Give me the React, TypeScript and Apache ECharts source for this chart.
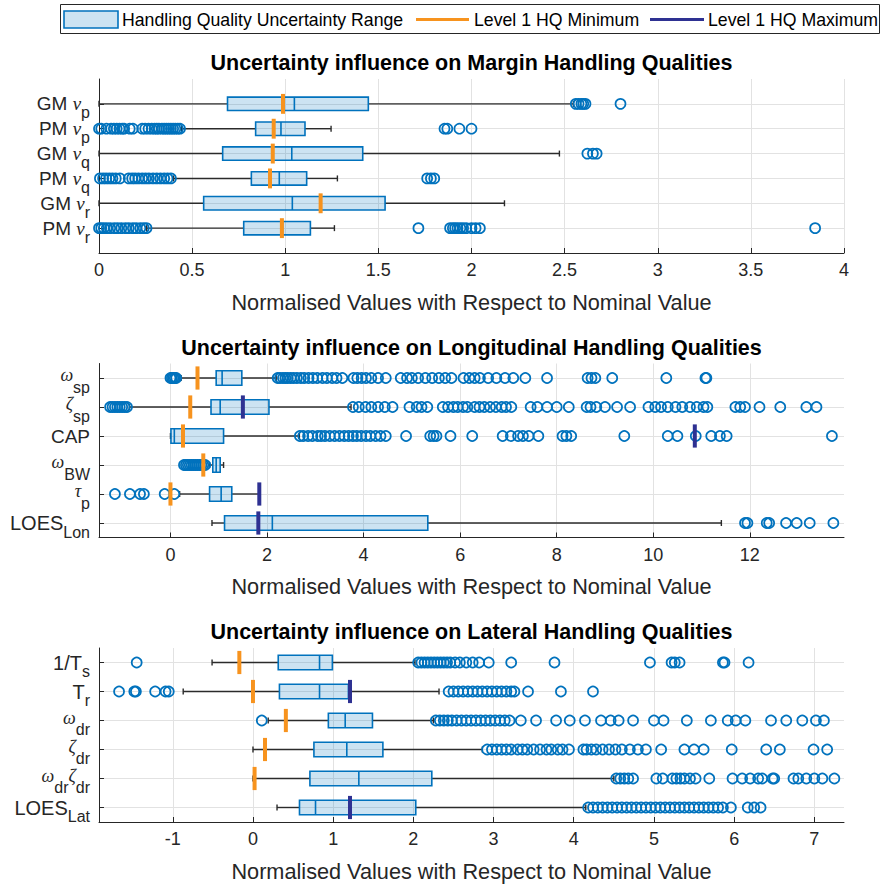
import React, { useEffect, useRef } from 'react';
import * as echarts from 'echarts';

const FONT = '"Liberation Sans", Arial, sans-serif';
const SERIF = '"Liberation Serif", "DejaVu Serif", serif';
const BLUE = '#0072BD';
const ORANGE = '#F7931E';
const NAVY = '#2E3192';
const AXIS = '#262626';
const GRID = '#e2e2e2';

const axisName = 'Normalised Values with Respect to Nominal Value';
const panelTitles = [
  'Uncertainty influence on Margin Handling Qualities',
  'Uncertainty influence on Longitudinal Handling Qualities',
  'Uncertainty influence on Lateral Handling Qualities',
];
const legendLabels = ['Handling Quality Uncertainty Range', 'Level 1 HQ Minimum', 'Level 1 HQ Maximum'];

// ---------- Panel 1 : Margin ----------
const marginLabels = [
  '{n|GM }{v|ν}{s|p}',
  '{n|PM }{v|ν}{s|p}',
  '{n|GM }{v|ν}{s|q}',
  '{n|PM }{v|ν}{s|q}',
  '{n|GM }{v|ν}{s|r}',
  '{n|PM }{v|ν}{s|r}',
];
// [whisker low, Q1, median, Q3, whisker high]
const marginStats = [
  [0.0, 0.69, 1.049, 1.446, 2.547],
  [0.444, 0.841, 0.977, 1.106, 1.246],
  [0.0, 0.664, 1.035, 1.416, 2.472],
  [0.4, 0.818, 0.968, 1.115, 1.28],
  [0.0, 0.562, 1.038, 1.536, 2.177],
  [0.256, 0.777, 0.985, 1.135, 1.264],
];
const marginL1Min = [0.988, 0.938, 0.933, 0.918, 1.19, 0.982];
const marginL1Max = [null, null, null, null, null, null];
const marginOutliers = [
  [2.56, 2.575, 2.59, 2.6, 2.612, 2.8],
  [0.0, 0.012, 0.04, 0.065, 0.08, 0.095, 0.11, 0.125, 0.135, 0.165, 0.182, 0.232, 0.248, 0.266, 0.283, 0.298, 0.31, 0.322, 0.338, 0.35, 0.362, 0.374, 0.386, 0.398, 0.41, 0.423, 0.435, 1.855, 1.87, 1.935, 2.0],
  [2.622, 2.652, 2.672],
  [0.005, 0.022, 0.038, 0.055, 0.072, 0.09, 0.112, 0.16, 0.178, 0.194, 0.212, 0.232, 0.25, 0.268, 0.29, 0.31, 0.33, 0.35, 0.368, 0.386, 1.762, 1.782, 1.8],
  [],
  [0.0, 0.012, 0.026, 0.042, 0.06, 0.082, 0.1, 0.12, 0.142, 0.16, 0.182, 0.2, 0.222, 0.24, 0.255, 1.715, 1.885, 1.9, 1.912, 1.925, 1.94, 1.955, 1.972, 2.0, 2.022, 2.045, 3.845],
];

// ---------- Panel 2 : Longitudinal ----------
const lonLabels = [
  '{g|ω}{s|sp}',
  '{g|ζ}{s|sp}',
  '{n|CAP}',
  '{g|ω}{s|BW}',
  '{g|τ}{s|p}',
  '{b|LOES}{s|Lon}',
];
const lonStats = [
  [0.22, 0.947, 1.07, 1.478, 2.19],
  [-0.85, 0.84, 1.03, 2.04, 3.74],
  [0.0, 0.01, 0.08, 1.1, 2.67],
  [0.81, 0.877, 0.947, 1.03, 1.1],
  [0.19, 0.81, 1.05, 1.27, 1.84],
  [0.86, 1.12, 2.11, 5.33, 11.41],
];
const lonL1Min = [0.56, 0.41, 0.26, 0.68, 0.0, null];
const lonL1Max = [null, 1.5, 10.86, null, 1.84, 1.82];
const lonOutliers = [
  [0.0, 0.03, 0.06, 0.09, 0.12, 2.22, 2.27, 2.33, 2.38, 2.43, 2.49, 2.55, 2.62, 2.7, 2.77, 2.86, 2.95, 3.04, 3.15, 3.24, 3.35, 3.44, 3.56, 3.79, 3.87, 3.96, 4.05, 4.16, 4.3, 4.46, 4.77, 4.9, 5.0, 5.13, 5.28, 5.42, 5.56, 5.69, 5.82, 6.07, 6.19, 6.3, 6.41, 6.58, 6.75, 6.93, 7.1, 7.35, 7.8, 8.64, 8.72, 8.8, 9.15, 10.27, 11.08, 11.1],
  [-1.25, -1.2, -1.15, -1.1, -1.05, -1.0, -0.95, -0.9, 3.78, 3.9, 4.04, 4.16, 4.3, 4.44, 4.6, 4.95, 5.1, 5.2, 5.32, 5.64, 5.75, 5.86, 5.95, 6.06, 6.15, 6.3, 6.4, 6.5, 6.62, 6.74, 6.86, 6.95, 7.06, 7.46, 7.6, 7.8, 8.0, 8.25, 8.62, 8.7, 8.82, 9.0, 9.25, 9.52, 9.9, 10.04, 10.16, 10.3, 10.46, 10.6, 10.76, 10.9, 11.04, 11.12, 11.7, 11.8, 11.9, 12.2, 12.63, 13.17, 13.38],
  [2.68, 2.75, 2.85, 2.94, 3.05, 3.12, 3.2, 3.3, 3.4, 3.5, 3.6, 3.69, 3.78, 3.86, 3.95, 4.05, 4.14, 4.25, 4.35, 4.46, 4.88, 5.38, 5.45, 5.51, 5.8, 6.25, 6.88, 7.05, 7.2, 7.3, 7.42, 7.62, 8.12, 8.2, 8.3, 9.4, 10.3, 10.5, 10.88, 11.2, 11.38, 11.52, 13.7],
  [0.28, 0.32, 0.36, 0.4, 0.44, 0.48, 0.52, 0.56, 0.6, 0.64, 0.68, 0.72],
  [-1.15, -0.84, -0.63, -0.55, -0.12, 0.08],
  [11.9, 11.95, 12.35, 12.4, 12.75, 12.97, 13.24, 13.73],
];

// ---------- Panel 3 : Lateral ----------
const latLabels = [
  '{b|1/T}{s|s}',
  '{b|T}{s|r}',
  '{g|ω}{s|dr}',
  '{g|ζ}{s|dr}',
  '{g|ω}{s|dr}{g|ζ}{s|dr}',
  '{b|LOES}{s|Lat}',
];
const latStats = [
  [-0.51, 0.315, 0.83, 0.99, 2.02],
  [-0.87, 0.33, 0.83, 1.19, 2.32],
  [0.19, 0.94, 1.15, 1.49, 2.25],
  [0.0, 0.76, 1.17, 1.62, 2.86],
  [0.0, 0.71, 1.32, 2.23, 4.5],
  [0.3, 0.58, 0.78, 2.03, 4.15],
];
const latL1Min = [-0.17, 0.0, 0.41, 0.15, 0.02, null];
const latL1Max = [null, 1.21, null, null, null, 1.21];
const latOutliers = [
  [-1.45, 2.06, 2.1, 2.14, 2.18, 2.22, 2.26, 2.3, 2.34, 2.38, 2.42, 2.46, 2.52, 2.58, 2.66, 2.74, 2.82, 2.94, 3.22, 3.76, 4.95, 5.22, 5.26, 5.32, 5.86, 5.88, 6.18],
  [-1.67, -1.48, -1.46, -1.22, -1.09, -1.05, 2.44, 2.5, 2.56, 2.62, 2.68, 2.74, 2.8, 2.86, 2.92, 2.98, 3.04, 3.1, 3.16, 3.22, 3.26, 3.43, 3.84, 4.24],
  [0.11, 2.28, 2.33, 2.38, 2.43, 2.48, 2.54, 2.6, 2.66, 2.72, 2.78, 2.84, 2.9, 2.96, 3.02, 3.08, 3.14, 3.2, 3.34, 3.53, 3.78, 3.95, 4.14, 4.34, 4.46, 4.56, 4.74, 5.0, 5.12, 5.41, 5.71, 5.92, 6.02, 6.14, 6.46, 6.65, 6.85, 7.02, 7.12],
  [2.92, 2.98, 3.04, 3.1, 3.16, 3.22, 3.3, 3.36, 3.42, 3.5, 3.58, 3.66, 3.72, 3.8, 3.86, 3.94, 4.12, 4.16, 4.22, 4.28, 4.36, 4.44, 4.52, 4.6, 4.7, 4.8, 4.9, 5.09, 5.38, 5.5, 5.62, 5.97, 6.4, 6.57, 6.99, 7.16],
  [4.53, 4.58, 4.63, 4.68, 4.74, 5.03, 5.11, 5.23, 5.28, 5.33, 5.38, 5.45, 5.52, 5.69, 5.98, 6.1, 6.2, 6.3, 6.35, 6.48, 6.5, 6.74, 6.8, 6.9, 7.0, 7.1, 7.25],
  [4.18, 4.24, 4.3, 4.36, 4.42, 4.48, 4.54, 4.6, 4.66, 4.72, 4.78, 4.84, 4.9, 4.96, 5.02, 5.08, 5.14, 5.2, 5.26, 5.32, 5.38, 5.44, 5.5, 5.56, 5.62, 5.68, 5.74, 5.8, 5.86, 5.96, 6.17, 6.25, 6.33],
];

const rowValues = [1, 2, 3, 4, 5, 6];
const lonTicks = [0, 2, 4, 6, 8, 10, 12];
const latTicks = [-1, 0, 1, 2, 3, 4, 5, 6, 7];

const richStyles = {
  n: { fontSize: 19, fontFamily: FONT, color: AXIS, verticalAlign: 'middle' },
  b: { fontSize: 20, fontFamily: FONT, color: AXIS, verticalAlign: 'middle' },
  v: { fontSize: 19, fontFamily: SERIF, fontStyle: 'italic', color: AXIS, verticalAlign: 'middle' },
  g: { fontSize: 18, fontFamily: SERIF, fontStyle: 'italic', color: AXIS, verticalAlign: 'middle', padding: [0, 0, 6, 0] },
  s: { fontSize: 16, fontFamily: FONT, color: AXIS, verticalAlign: 'middle', padding: [18, 0, 0, 0] },
};

type Panel = {
  labels: string[];
  stats: number[][];
  mins: (number | null)[];
  maxs: (number | null)[];
  outliers: number[][];
  top: number;
  yMin: number;
  yMax: number;
  yByInterval: boolean;
  xMin: number;
  xMax: number;
  ticks?: number[];
  interval?: number;
  boxHalf: number;
};

const panels: Panel[] = [
  { labels: marginLabels, stats: marginStats, mins: marginL1Min, maxs: marginL1Max, outliers: marginOutliers, top: 79, yMin: 0, yMax: 7, yByInterval: true, xMin: 0, xMax: 4, interval: 0.5, boxHalf: 0.27 },
  { labels: lonLabels, stats: lonStats, mins: lonL1Min, maxs: lonL1Max, outliers: lonOutliers, top: 363.5, yMin: 0.5, yMax: 6.5, yByInterval: false, xMin: -1.48, xMax: 13.95, ticks: lonTicks, boxHalf: 0.25 },
  { labels: latLabels, stats: latStats, mins: latL1Min, maxs: latL1Max, outliers: latOutliers, top: 648, yMin: 0.5, yMax: 6.5, yByInterval: false, xMin: -1.92, xMax: 7.37, ticks: latTicks, boxHalf: 0.25 },
];

function buildOption() {
  const grid: any[] = [];
  const xAxis: any[] = [];
  const yAxis: any[] = [];
  const series: any[] = [];
  const graphic: any[] = [];

  panels.forEach((p, i) => {
    grid.push({ left: 99, right: 37, top: p.top, height: 174, containLabel: false });
    const xa: any = {
      gridIndex: i,
      type: 'value',
      min: p.xMin,
      max: p.xMax,
      axisLine: { show: true, onZero: false, lineStyle: { color: AXIS, width: 1 } },
      axisTick: { show: true, inside: true, length: 5, lineStyle: { color: AXIS } },
      axisLabel: { color: AXIS, fontSize: 18, fontFamily: FONT, margin: 8, showMinLabel: true, showMaxLabel: true, hideOverlap: false },
      splitLine: { show: true, lineStyle: { color: GRID, width: 1 } },
      name: axisName,
      nameLocation: 'middle',
      nameGap: 38,
      nameTextStyle: { color: AXIS, fontSize: 21.7, fontFamily: FONT },
    };
    if (p.interval) xa.interval = p.interval;
    if (p.ticks) {
      xa.axisTick.customValues = p.ticks;
      xa.axisLabel.customValues = p.ticks;
    }
    xAxis.push(xa);

    const ya: any = {
      gridIndex: i,
      type: 'value',
      inverse: true,
      min: p.yMin,
      max: p.yMax,
      axisLine: { show: true, onZero: false, lineStyle: { color: AXIS, width: 1 } },
      axisTick: { show: true, inside: true, length: 5, customValues: rowValues, lineStyle: { color: AXIS } },
      axisLabel: {
        margin: 9,
        formatter: (v: number) => p.labels[Math.round(v) - 1] ?? '',
        rich: richStyles,
      },
      splitLine: { show: true, lineStyle: { color: GRID, width: 1 } },
    };
    if (p.yByInterval) {
      ya.interval = 1;
    } else {
      ya.axisLabel.customValues = rowValues;
    }
    yAxis.push(ya);

    const boxHalf = p.boxHalf;
    series.push({
      type: 'custom',
      name: legendLabels[0],
      xAxisIndex: i,
      yAxisIndex: i,
      silent: true,
      encode: { x: [1, 2, 3, 4, 5], y: 0 },
      data: p.stats.map((s, r) => [r + 1, ...s]),
      renderItem: (_params: any, api: any) => {
        const yv = api.value(0);
        const lo = api.coord([api.value(1), yv]);
        const q1 = api.coord([api.value(2), yv]);
        const md = api.coord([api.value(3), yv]);
        const q3 = api.coord([api.value(4), yv]);
        const hi = api.coord([api.value(5), yv]);
        const unit = api.size([0, 1])[1];
        const h = unit * boxHalf;
        const y = lo[1];
        const wStyle = { stroke: '#2b2b2b', lineWidth: 1.4 };
        return {
          type: 'group',
          children: [
            { type: 'line', shape: { x1: lo[0], y1: y, x2: q1[0], y2: y }, style: wStyle },
            { type: 'line', shape: { x1: q3[0], y1: y, x2: hi[0], y2: y }, style: wStyle },
            { type: 'line', shape: { x1: lo[0], y1: y - 3, x2: lo[0], y2: y + 3 }, style: wStyle },
            { type: 'line', shape: { x1: hi[0], y1: y - 3, x2: hi[0], y2: y + 3 }, style: wStyle },
            {
              type: 'rect',
              shape: { x: q1[0], y: y - h, width: q3[0] - q1[0], height: 2 * h },
              style: { fill: 'rgba(0,114,189,0.2)', stroke: BLUE, lineWidth: 1.6 },
            },
            { type: 'line', shape: { x1: md[0], y1: y - h, x2: md[0], y2: y + h }, style: { stroke: BLUE, lineWidth: 1.6 } },
          ],
        };
      },
      z: 2,
    });

    const pts: number[][] = [];
    p.outliers.forEach((row, r) => row.forEach((v) => pts.push([v, r + 1])));
    series.push({
      type: 'scatter',
      xAxisIndex: i,
      yAxisIndex: i,
      silent: true,
      symbol: 'circle',
      symbolSize: 10,
      itemStyle: { color: 'rgba(0,0,0,0)', borderColor: BLUE, borderWidth: 1.7, opacity: 1 },
      emphasis: { disabled: true },
      data: pts,
      z: 3,
    });

    const markerSeries = (vals: (number | null)[], color: string, name: string) => ({
      type: 'custom',
      name,
      xAxisIndex: i,
      yAxisIndex: i,
      silent: true,
      encode: { x: 0, y: 1 },
      data: vals.map((v, r) => (v === null ? null : [v, r + 1])).filter((d) => d !== null),
      renderItem: (_params: any, api: any) => {
        const c = api.coord([api.value(0), api.value(1)]);
        const unit = api.size([0, 1])[1];
        const h = unit * 0.4;
        return {
          type: 'rect',
          shape: { x: c[0] - 2, y: c[1] - h, width: 4, height: 2 * h },
          style: { fill: color },
        };
      },
      z: 4,
    });
    series.push(markerSeries(p.mins, ORANGE, legendLabels[1]));
    series.push(markerSeries(p.maxs, NAVY, legendLabels[2]));

    graphic.push({
      type: 'text',
      x: 471.5,
      y: p.top - 16,
      style: {
        text: panelTitles[i],
        align: 'center',
        verticalAlign: 'middle',
        textAlign: 'center',
        textVerticalAlign: 'middle',
        font: `bold 21.5px ${FONT}`,
        fill: '#000',
      },
    });
  });

  // legend box
  const lf = `17.7px ${FONT}`;
  graphic.push(
    { type: 'rect', shape: { x: 60.5, y: 4.5, width: 819, height: 29 }, style: { fill: '#fff', stroke: AXIS, lineWidth: 1 } },
    { type: 'rect', shape: { x: 64, y: 11, width: 54, height: 17 }, style: { fill: 'rgba(0,114,189,0.2)', stroke: BLUE, lineWidth: 1.6 } },
    { type: 'text', x: 122, y: 19.5, style: { text: legendLabels[0], font: lf, fill: '#000', verticalAlign: 'middle', textVerticalAlign: 'middle' } },
    { type: 'line', shape: { x1: 416, y1: 19.5, x2: 469, y2: 19.5 }, style: { stroke: ORANGE, lineWidth: 3 } },
    { type: 'text', x: 474, y: 19.5, style: { text: legendLabels[1], font: lf, fill: '#000', verticalAlign: 'middle', textVerticalAlign: 'middle' } },
    { type: 'line', shape: { x1: 650, y1: 19.5, x2: 704, y2: 19.5 }, style: { stroke: NAVY, lineWidth: 3 } },
    { type: 'text', x: 708, y: 19.5, style: { text: legendLabels[2], font: lf, fill: '#000', verticalAlign: 'middle', textVerticalAlign: 'middle' } },
  );

  return {
    animation: false,
    backgroundColor: '#fff',
    textStyle: { fontFamily: FONT },
    grid,
    xAxis,
    yAxis,
    series,
    graphic,
  };
}

export default function App() {
  const ref = useRef<HTMLDivElement>(null);
  useEffect(() => {
    if (!ref.current) return;
    const chart = echarts.init(ref.current, undefined, { renderer: 'svg' });
    chart.setOption(buildOption() as any);
    return () => chart.dispose();
  }, []);
  return <div ref={ref} style={{ position: 'absolute', left: 0, top: 0, width: 881, height: 884 }} />;
}
